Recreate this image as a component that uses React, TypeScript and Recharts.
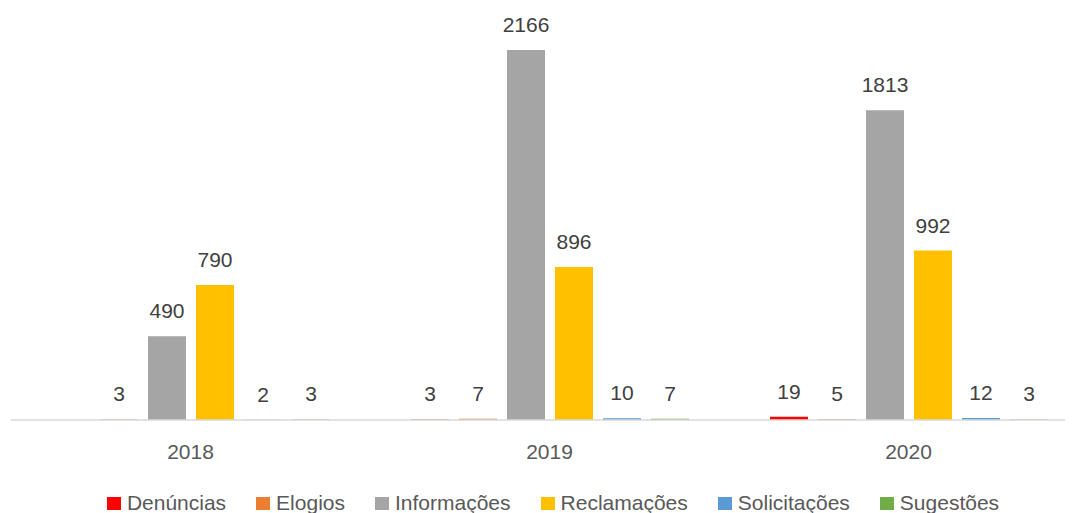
import { BarChart, Bar, XAxis, YAxis, LabelList, Legend } from 'recharts';

const years = ['2018', '2019', '2020'];
const denuncias = [null, 3, 19];
const elogios = [3, 7, 5];
const informacoes = [490, 2166, 1813];
const reclamacoes = [790, 896, 992];
const solicitacoes = [2, 10, 12];
const sugestoes = [3, 7, 3];

const series = [
  { key: 'Denúncias', values: denuncias, color: '#FF0000' },
  { key: 'Elogios', values: elogios, color: '#ED7D31' },
  { key: 'Informações', values: informacoes, color: '#A5A5A5' },
  { key: 'Reclamações', values: reclamacoes, color: '#FFC000' },
  { key: 'Solicitações', values: solicitacoes, color: '#5B9BD5' },
  { key: 'Sugestões', values: sugestoes, color: '#70AD47' },
];

const data = years.map((year, i) => {
  const row: Record<string, any> = { year };
  series.forEach(s => { row[s.key] = s.values[i]; });
  return row;
});

const font = '"Liberation Sans", Arial, sans-serif';

const LegendBox = () => (
  <div style={{ display: 'flex', justifyContent: 'center', gap: 30, fontFamily: font, fontSize: 21, color: '#595959', whiteSpace: 'nowrap' }}>
    {series.map(s => (
      <div key={s.key} style={{ display: 'flex', alignItems: 'center', gap: 6 }}>
        <span style={{ width: 14, height: 13, background: s.color, display: 'inline-block' }} />
        <span style={{ lineHeight: '24px' }}>{s.key}</span>
      </div>
    ))}
  </div>
);

export default function App() {
  return (
    <div style={{ width: 1073, height: 513, overflow: 'hidden', margin: '-8px 0 0 -8px', position: 'relative', background: '#fff' }}>
      <BarChart width={1100} height={513} data={data} margin={{ top: 10, right: 12, left: 11, bottom: 63 }} barGap={10}>
        <XAxis
          dataKey="year"
          height={30}
          axisLine={{ stroke: '#D9D9D9', strokeWidth: 1.5 }}
          tickLine={false}
          tickSize={0}
          tickMargin={24}
          tick={{ fill: '#595959', fontSize: 21, fontFamily: font }}
        />
        <YAxis hide domain={[0, 2400]} />
        <Legend
          layout="horizontal"
          verticalAlign="middle"
          align="center"
          content={() => <LegendBox />}
          wrapperStyle={{ position: 'absolute', top: 491, left: 0, width: 1106, height: 30 }}
        />
        {series.map(s => (
          <Bar key={s.key} dataKey={s.key} fill={s.color} barSize={38} isAnimationActive={false}>
            <LabelList dataKey={s.key} position="top" offset={18} fill="#404040" fontSize={21} fontFamily={font} />
          </Bar>
        ))}
      </BarChart>
    </div>
  );
}
